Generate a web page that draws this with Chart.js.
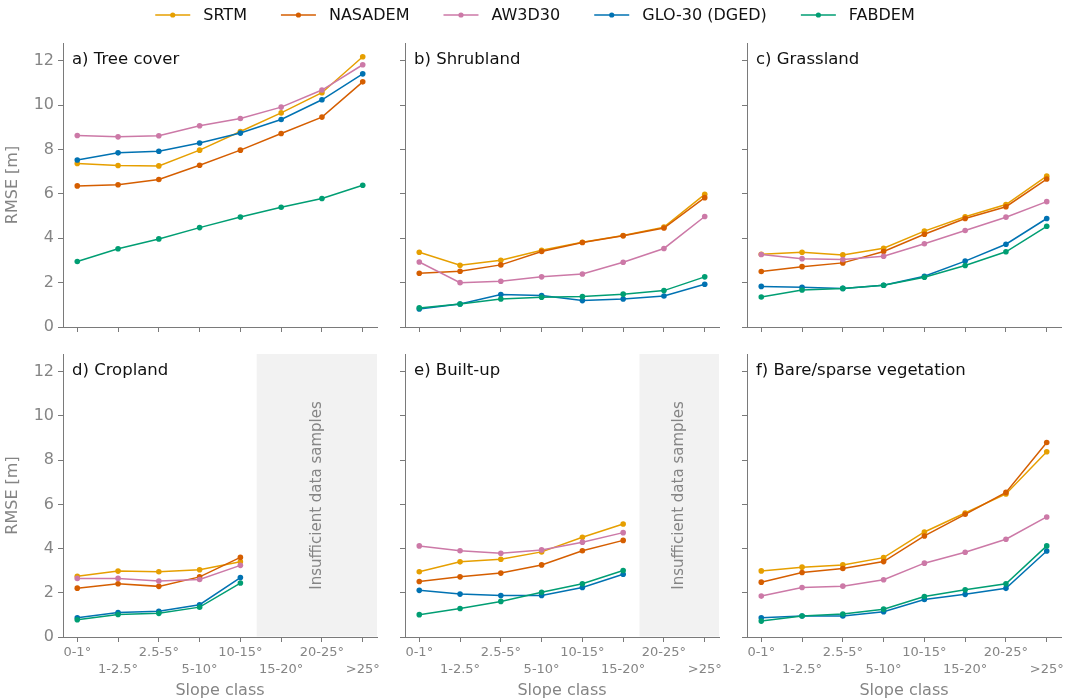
<!DOCTYPE html>
<html>
<head>
<meta charset="utf-8">
<script src="https://cdn.jsdelivr.net/npm/chart.js@4"></script>
<style>
  body { margin: 0; background: #fff; }
  #wrap { position: relative; width: 1070px; height: 700px; }
  canvas { position: absolute; }
</style>
</head>
<body>
<div id="wrap"></div>
<script>
// slope classes on the x axis
const slopeClasses = ['0-1°', '1-2.5°', '2.5-5°', '5-10°', '10-15°', '15-20°', '20-25°', '>25°'];
const yTicks = [0, 2, 4, 6, 8, 10, 12];

const demNames = ['SRTM', 'NASADEM', 'AW3D30', 'GLO-30 (DGED)', 'FABDEM'];
const demColors = ['#E69F00', '#D55E00', '#CC79A7', '#0072B2', '#009E73'];

const panelTitles = ['a) Tree cover', 'b) Shrubland', 'c) Grassland', 'd) Cropland', 'e) Built-up', 'f) Bare/sparse vegetation'];

// RMSE [m] per panel, one row per DEM (same order as demNames)
const treeCover = [
  [7.37, 7.28, 7.26, 7.97, 8.81, 9.65, 10.56, 12.18],
  [6.36, 6.41, 6.65, 7.29, 7.97, 8.72, 9.46, 11.05],
  [8.63, 8.57, 8.62, 9.07, 9.40, 9.91, 10.68, 11.82],
  [7.53, 7.85, 7.92, 8.29, 8.74, 9.35, 10.24, 11.41],
  [2.95, 3.53, 3.97, 4.48, 4.96, 5.40, 5.79, 6.39]
];
const shrubland = [
  [3.37, 2.78, 3.01, 3.46, 3.82, 4.12, 4.50, 5.98],
  [2.42, 2.51, 2.80, 3.40, 3.81, 4.11, 4.46, 5.83],
  [2.93, 2.00, 2.06, 2.26, 2.39, 2.92, 3.54, 4.98],
  [0.81, 1.04, 1.46, 1.42, 1.19, 1.26, 1.40, 1.93],
  [0.86, 1.04, 1.26, 1.34, 1.37, 1.48, 1.64, 2.26]
];
const grassland = [
  [3.28, 3.37, 3.25, 3.55, 4.32, 4.97, 5.52, 6.80],
  [2.50, 2.72, 2.89, 3.40, 4.18, 4.89, 5.42, 6.67],
  [3.27, 3.08, 3.04, 3.19, 3.75, 4.35, 4.95, 5.65],
  [1.83, 1.79, 1.74, 1.88, 2.29, 2.97, 3.73, 4.89],
  [1.35, 1.67, 1.74, 1.88, 2.24, 2.77, 3.39, 4.54]
];
const cropland = [
  [2.75, 2.98, 2.95, 3.04, 3.40, null, null, null],
  [2.21, 2.41, 2.29, 2.72, 3.60, null, null, null],
  [2.65, 2.65, 2.53, 2.60, 3.24, null, null, null],
  [0.87, 1.11, 1.16, 1.46, 2.69, null, null, null],
  [0.78, 1.02, 1.07, 1.35, 2.44, null, null, null]
];
const builtUp = [
  [2.95, 3.40, 3.52, 3.85, 4.51, 5.11, null, null],
  [2.51, 2.72, 2.89, 3.26, 3.90, 4.37, null, null],
  [4.12, 3.90, 3.79, 3.94, 4.29, 4.72, null, null],
  [2.11, 1.94, 1.88, 1.88, 2.24, 2.84, null, null],
  [1.01, 1.29, 1.61, 2.02, 2.41, 3.01, null, null]
];
const bareSparse = [
  [2.99, 3.16, 3.26, 3.59, 4.75, 5.61, 6.47, 8.38],
  [2.48, 2.92, 3.10, 3.41, 4.57, 5.55, 6.54, 8.80],
  [1.85, 2.24, 2.30, 2.59, 3.34, 3.83, 4.42, 5.43],
  [0.87, 0.95, 0.95, 1.14, 1.70, 1.93, 2.20, 3.89],
  [0.72, 0.95, 1.04, 1.26, 1.83, 2.14, 2.41, 4.12]
];
const panelData = [treeCover, shrubland, grassland, cropland, builtUp, bareSparse];

// slope class (x position) where the "insufficient data" shading starts
const insufficientFrom = [null, null, null, 4.4, 5.4, null];

const FONT = 'DejaVu Sans';
const GREY_TXT = '#858585';
const GREY_AX = '#7a7a7a';

const wrap = document.getElementById('wrap');
function makeCanvas(left, top, w, h) {
  const c = document.createElement('canvas');
  c.width = w; c.height = h;
  c.style.left = left + 'px'; c.style.top = top + 'px';
  c.style.width = w + 'px'; c.style.height = h + 'px';
  wrap.appendChild(c);
  return c;
}

// panel extras: grey shading, rotated note, panel title
const panelDecor = {
  id: 'panelDecor',
  beforeDatasetsDraw(chart, args, opts) {
    const {ctx, chartArea, scales} = chart;
    if (opts.shadeFrom == null) return;
    const x0 = scales.x.getPixelForValue(opts.shadeFrom);
    ctx.save();
    ctx.fillStyle = '#f2f2f2';
    ctx.fillRect(x0, chartArea.top, chartArea.right - x0, chartArea.bottom - chartArea.top - 0.5);
    ctx.translate((x0 + chartArea.right) / 2, (chartArea.top + chartArea.bottom) / 2);
    ctx.rotate(-Math.PI / 2);
    ctx.font = '15px ' + FONT;
    ctx.fillStyle = GREY_TXT;
    ctx.textAlign = 'center';
    ctx.textBaseline = 'middle';
    ctx.fillText('Insufficient data samples', 0, 0);
    ctx.restore();
  },
  afterDraw(chart, args, opts) {
    const {ctx, chartArea} = chart;
    ctx.save();
    ctx.font = '16.5px ' + FONT;
    ctx.fillStyle = '#111';
    ctx.textBaseline = 'middle';
    ctx.fillText(opts.title, chartArea.left + 9, chartArea.top + 17);
    ctx.restore();
  }
};

const colLeft = [63, 405, 747];
const plotW = 314;
const rowTop = [43, 354];
const plotH = [284, 283];
const padTop = 14, padRight = 6;

panelData.forEach((series, p) => {
  const r = Math.floor(p / 3), c = p % 3;
  const yW = c === 0 ? 63 : 10;
  const xH = r === 1 ? 63 : 14;
  const cv = makeCanvas(colLeft[c] - yW, rowTop[r] - padTop, yW + plotW + padRight, padTop + plotH[r] + xH);

  const datasets = series.map((vals, i) => ({
    label: demNames[i],
    data: vals.map((v, k) => ({x: k, y: v})).filter(pt => pt.y !== null),
    borderColor: demColors[i],
    backgroundColor: demColors[i],
    pointBackgroundColor: demColors[i],
    pointBorderWidth: 0,
    pointRadius: 2.8,
    borderWidth: 1.5,
    tension: 0,
    order: demNames.length - i
  }));

  new Chart(cv, {
    type: 'line',
    data: {datasets},
    plugins: [panelDecor],
    options: {
      responsive: false,
      animation: false,
      layout: {padding: {top: padTop, right: padRight, left: 0, bottom: 0}},
      plugins: {
        legend: {display: false},
        tooltip: {enabled: false},
        panelDecor: {title: panelTitles[p], shadeFrom: insufficientFrom[p]}
      },
      scales: {
        x: {
          type: 'linear',
          min: -0.35,
          max: slopeClasses.length - 1 + 0.35,
          afterBuildTicks: s => { s.ticks = slopeClasses.map((_, k) => ({value: k})); },
          afterFit: s => { s.height = xH; },
          grid: {drawOnChartArea: false, drawTicks: true, tickLength: 5, color: GREY_AX},
          border: {display: true, color: GREY_AX, width: 1},
          ticks: {
            display: r === 1,
            autoSkip: false,
            maxRotation: 0,
            minRotation: 0,
            padding: 2.5,
            color: GREY_TXT,
            font: {family: FONT, size: 13, lineHeight: 1.3},
            callback: v => (v % 2 === 0 ? [slopeClasses[v], ''] : ['', slopeClasses[v]])
          },
          title: {
            display: r === 1,
            text: 'Slope class',
            color: GREY_TXT,
            font: {family: FONT, size: 16},
            padding: {top: 0, bottom: 0}
          }
        },
        y: {
          min: 0,
          max: 12.8,
          afterBuildTicks: s => { s.ticks = yTicks.map(v => ({value: v})); },
          afterFit: s => { s.width = yW; },
          grid: {drawOnChartArea: false, drawTicks: true, tickLength: 5, color: GREY_AX},
          border: {display: true, color: GREY_AX, width: 1},
          ticks: {
            display: c === 0,
            padding: 4,
            color: GREY_TXT,
            font: {family: FONT, size: 16}
          },
          title: {
            display: c === 0,
            text: 'RMSE [m]',
            color: GREY_TXT,
            font: {family: FONT, size: 16},
            padding: {top: 3, bottom: 0}
          }
        }
      }
    }
  });
});

// shared legend across the top
const legendDraw = {
  id: 'legendDraw',
  afterDraw(chart) {
    const ctx = chart.ctx;
    const ds = chart.data.datasets;
    ctx.save();
    ctx.font = '16px ' + FONT;
    const lineLen = 35, gapText = 13, gapItem = 34;
    const widths = ds.map(d => ctx.measureText(d.label).width);
    const total = widths.reduce((a, b) => a + b, 0) + ds.length * (lineLen + gapText) + (ds.length - 1) * gapItem;
    let x = (chart.width - total) / 2;
    const y = 15;
    ds.forEach((d, i) => {
      ctx.strokeStyle = d.borderColor;
      ctx.lineWidth = 1.5;
      ctx.beginPath();
      ctx.moveTo(x, y); ctx.lineTo(x + lineLen, y);
      ctx.stroke();
      ctx.fillStyle = d.borderColor;
      ctx.beginPath();
      ctx.arc(x + lineLen / 2, y, 2.6, 0, Math.PI * 2);
      ctx.fill();
      ctx.fillStyle = '#111';
      ctx.textBaseline = 'middle';
      ctx.fillText(d.label, x + lineLen + gapText, y + 1);
      x += lineLen + gapText + widths[i] + gapItem;
    });
    ctx.restore();
  }
};

new Chart(makeCanvas(0, 0, 1070, 32), {
  type: 'line',
  data: {datasets: demNames.map((n, i) => ({label: n, data: [], borderColor: demColors[i]}))},
  plugins: [legendDraw],
  options: {
    responsive: false,
    animation: false,
    plugins: {legend: {display: false}, tooltip: {enabled: false}},
    scales: {x: {display: false}, y: {display: false}}
  }
});
</script>
</body>
</html>
